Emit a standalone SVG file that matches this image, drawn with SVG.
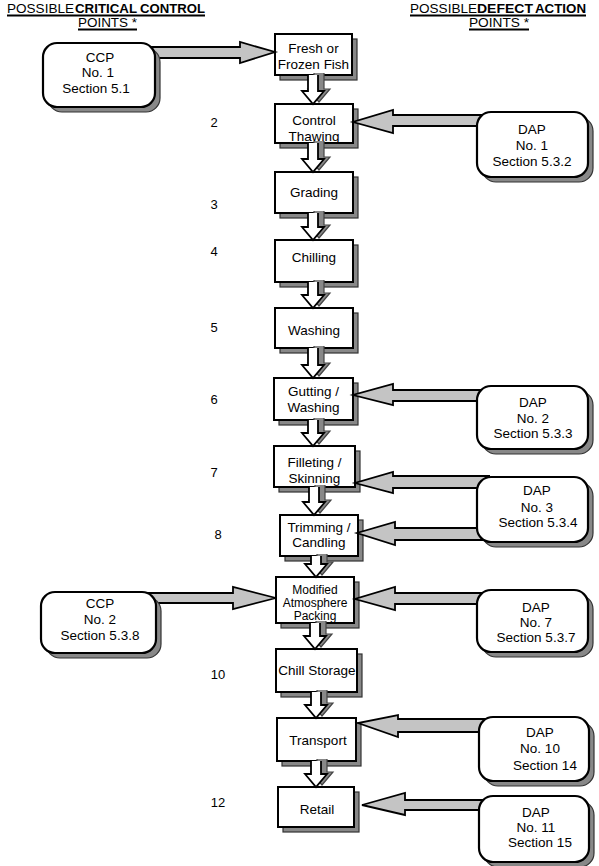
<svg xmlns="http://www.w3.org/2000/svg" width="599" height="866" viewBox="0 0 599 866">
<style>
.box{fill:#fff;stroke:#000;stroke-width:2}
.sh{fill:#888;stroke:#333;stroke-width:1.2}
.rbox{fill:#fff;stroke:#000;stroke-width:2.2}
.t{font-family:"Liberation Sans",Arial,sans-serif;font-size:13.5px;text-anchor:middle;fill:#000}
.s{font-size:12px}
.n{font-family:"Liberation Sans",Arial,sans-serif;font-size:13px;text-anchor:middle;fill:#000}
.h{font-family:"Liberation Sans",Arial,sans-serif;font-size:13.5px;fill:#000}
.b{font-weight:bold}
.ul{stroke:#000;stroke-width:1.8}
.ha{fill:#c4c4c4;stroke:#000;stroke-width:1.8}
.da{fill:#fff;stroke:#000;stroke-width:1.8}
.ds{fill:#888;stroke:#444;stroke-width:1.2}
</style>
<rect width="599" height="866" fill="#fff"/>

<g id="headers">
<text class="h" x="7" y="13" textLength="67" lengthAdjust="spacingAndGlyphs">POSSIBLE</text>
<text class="h b" x="75" y="13" textLength="62" lengthAdjust="spacingAndGlyphs">CRITICAL</text>
<text class="h b" x="140" y="13" textLength="65" lengthAdjust="spacingAndGlyphs">CONTROL</text>
<line class="ul" x1="7" y1="15.5" x2="205" y2="15.5"/>
<text class="h" x="78" y="27" textLength="59" lengthAdjust="spacingAndGlyphs">POINTS *</text>
<line class="ul" x1="78" y1="29.5" x2="137" y2="29.5"/>
<text class="h" x="410" y="13" textLength="67" lengthAdjust="spacingAndGlyphs">POSSIBLE</text>
<text class="h b" x="477" y="13" textLength="56" lengthAdjust="spacingAndGlyphs">DEFECT</text>
<text class="h b" x="535" y="13" textLength="51" lengthAdjust="spacingAndGlyphs">ACTION</text>
<line class="ul" x1="410" y1="15.5" x2="586" y2="15.5"/>
<text class="h" x="469" y="27" textLength="60" lengthAdjust="spacingAndGlyphs">POINTS *</text>
<line class="ul" x1="469" y1="29.5" x2="529" y2="29.5"/>
</g>

<g id="step-numbers">
<text class="n" x="214" y="127">2</text>
<text class="n" x="214" y="209">3</text>
<text class="n" x="214" y="256">4</text>
<text class="n" x="214" y="332">5</text>
<text class="n" x="214" y="404">6</text>
<text class="n" x="214" y="477">7</text>
<text class="n" x="218" y="539">8</text>
<text class="n" x="218" y="679">10</text>
<text class="n" x="218" y="807">12</text>
</g>

<g id="fresh-frozen-fish">
<rect class="sh" x="280" y="39" width="77" height="41"/>
<rect class="box" x="275" y="34" width="77" height="41"/>
<text class="t" x="313.5" y="53">Fresh or</text>
<text class="t" x="313.5" y="69">Frozen Fish</text>
</g>
<g id="control-thawing">
<rect class="sh" x="280" y="109" width="78" height="39"/>
<rect class="box" x="275" y="104" width="78" height="39"/>
<text class="t" x="314" y="125">Control</text>
<text class="t" x="314" y="141">Thawing</text>
</g>
<g id="grading">
<rect class="sh" x="280" y="177" width="78" height="41"/>
<rect class="box" x="275" y="172" width="78" height="41"/>
<text class="t" x="314" y="197">Grading</text>
</g>
<g id="chilling">
<rect class="sh" x="280" y="245" width="78" height="42"/>
<rect class="box" x="275" y="240" width="78" height="42"/>
<text class="t" x="314" y="262">Chilling</text>
</g>
<g id="washing">
<rect class="sh" x="280" y="313" width="78" height="40"/>
<rect class="box" x="275" y="308" width="78" height="40"/>
<text class="t" x="314" y="335">Washing</text>
</g>
<g id="gutting-washing">
<rect class="sh" x="279" y="383" width="79" height="42"/>
<rect class="box" x="274" y="378" width="79" height="42"/>
<text class="t" x="313.5" y="396">Gutting /</text>
<text class="t" x="313.5" y="412">Washing</text>
</g>
<g id="filleting-skinning">
<rect class="sh" x="279" y="451" width="81" height="41"/>
<rect class="box" x="274" y="446" width="81" height="41"/>
<text class="t" x="314.5" y="467">Filleting /</text>
<text class="t" x="314.5" y="483">Skinning</text>
</g>
<g id="trimming-candling">
<rect class="sh" x="285" y="520" width="78" height="41"/>
<rect class="box" x="280" y="515" width="78" height="41"/>
<text class="t" x="319" y="532">Trimming /</text>
<text class="t" x="319" y="547">Candling</text>
</g>
<g id="modified-atmosphere-packing">
<rect class="sh" x="281" y="582" width="78" height="46"/>
<rect class="box" x="276" y="577" width="78" height="46"/>
<text class="t s" x="315" y="594">Modified</text>
<text class="t s" x="315" y="607">Atmosphere</text>
<text class="t s" x="315" y="620">Packing</text>
</g>
<g id="chill-storage">
<rect class="sh" x="281" y="654" width="81" height="43"/>
<rect class="box" x="276" y="649" width="81" height="43"/>
<text class="t" x="317" y="675">Chill Storage</text>
</g>
<g id="transport">
<rect class="sh" x="282" y="723" width="79" height="43"/>
<rect class="box" x="277" y="718" width="79" height="43"/>
<text class="t" x="318" y="745">Transport</text>
</g>
<g id="retail">
<rect class="sh" x="283" y="792" width="76" height="40"/>
<rect class="box" x="278" y="787" width="76" height="40"/>
<text class="t" x="317" y="814">Retail</text>
</g>

<g id="connectors">
<g transform="translate(6,-2)">
<path class="ds" d="M308,75V91H302L313,104L324,91H318V75"/>
<path class="ds" d="M308,143V159H302L313,172L324,159H318V143"/>
<path class="ds" d="M308,213V227H302L313,240L324,227H318V213"/>
<path class="ds" d="M308,282V295H302L313,308L324,295H318V282"/>
<path class="ds" d="M308,348V365H302L313,378L324,365H318V348"/>
<path class="ds" d="M308,420V433H302L313,446L324,433H318V420"/>
<path class="ds" d="M309,487V502H303L314,515L325,502H319V487"/>
<path class="ds" d="M311,556V564H305L316,577L327,564H321V556"/>
<path class="ds" d="M310,623V636H304L315,649L326,636H320V623"/>
<path class="ds" d="M311,692V705H305L316,718L327,705H321V692"/>
<path class="ds" d="M311,761V774H305L316,787L327,774H321V761"/>
</g>
<path class="da" d="M308,75V91H302L313,104L324,91H318V75"/>
<path class="da" d="M308,143V159H302L313,172L324,159H318V143"/>
<path class="da" d="M308,213V227H302L313,240L324,227H318V213"/>
<path class="da" d="M308,282V295H302L313,308L324,295H318V282"/>
<path class="da" d="M308,348V365H302L313,378L324,365H318V348"/>
<path class="da" d="M308,420V433H302L313,446L324,433H318V420"/>
<path class="da" d="M309,487V502H303L314,515L325,502H319V487"/>
<path class="da" d="M311,556V564H305L316,577L327,564H321V556"/>
<path class="da" d="M310,623V636H304L315,649L326,636H320V623"/>
<path class="da" d="M311,692V705H305L316,718L327,705H321V692"/>
<path class="da" d="M311,761V774H305L316,787L327,774H321V761"/>
<path class="ha" d="M140,47H240V42L275,52L240,63V58H140"/>
<path class="ha" d="M490,115H393V110L353,122L393,133V126H490"/>
<path class="ha" d="M490,390H393V384L353,395L393,405V401H490"/>
<path class="ha" d="M490,476H393V472L355,483L393,493V488H490"/>
<path class="ha" d="M490,528H395V522L357,533L395,545V540H490"/>
<path class="ha" d="M140,593H233V587L276,598L233,609V603H140"/>
<path class="ha" d="M490,593H395V587L355,599L395,610V604H490"/>
<path class="ha" d="M490,719H398V715L358,723L398,737V732H490"/>
<path class="ha" d="M490,800H405V793L362,805L405,815V810H490"/>
</g>

<g id="ccp-1">
<rect class="sh" x="48" y="48" width="112" height="64" rx="14"/>
<rect class="rbox" x="43" y="43" width="112" height="64" rx="14"/>
<text class="t" x="100" y="62">CCP</text>
<text class="t" x="98" y="77">No. 1</text>
<text class="t" x="96" y="93">Section 5.1</text>
</g>
<g id="dap-1">
<rect class="sh" x="482" y="117" width="111" height="65" rx="14"/>
<rect class="rbox" x="477" y="112" width="111" height="65" rx="14"/>
<text class="t" x="532" y="134">DAP</text>
<text class="t" x="532" y="150">No. 1</text>
<text class="t" x="532" y="166">Section 5.3.2</text>
</g>
<g id="dap-2">
<rect class="sh" x="482" y="391" width="111" height="63" rx="14"/>
<rect class="rbox" x="477" y="386" width="111" height="63" rx="14"/>
<text class="t" x="533" y="407">DAP</text>
<text class="t" x="533" y="423">No. 2</text>
<text class="t" x="533" y="438">Section 5.3.3</text>
</g>
<g id="dap-3">
<rect class="sh" x="482" y="482" width="111" height="65" rx="14"/>
<rect class="rbox" x="477" y="477" width="111" height="65" rx="14"/>
<text class="t" x="537" y="495">DAP</text>
<text class="t" x="537" y="512">No. 3</text>
<text class="t" x="538" y="527">Section 5.3.4</text>
</g>
<g id="ccp-2">
<rect class="sh" x="46" y="597" width="115" height="61" rx="14"/>
<rect class="rbox" x="41" y="592" width="115" height="61" rx="14"/>
<text class="t" x="100" y="608">CCP</text>
<text class="t" x="100" y="624">No. 2</text>
<text class="t" x="100" y="640">Section 5.3.8</text>
</g>
<g id="dap-7">
<rect class="sh" x="482" y="595" width="111" height="62" rx="14"/>
<rect class="rbox" x="477" y="590" width="111" height="62" rx="14"/>
<text class="t" x="536" y="612">DAP</text>
<text class="t" x="536" y="627">No. 7</text>
<text class="t" x="536" y="642">Section 5.3.7</text>
</g>
<g id="dap-10">
<rect class="sh" x="484" y="722" width="110" height="64" rx="14"/>
<rect class="rbox" x="479" y="717" width="110" height="64" rx="14"/>
<text class="t" x="540" y="737">DAP</text>
<text class="t" x="540" y="753">No. 10</text>
<text class="t" x="545" y="770">Section 14</text>
</g>
<g id="dap-11">
<rect class="sh" x="484" y="801" width="110" height="66" rx="14"/>
<rect class="rbox" x="479" y="796" width="110" height="66" rx="14"/>
<text class="t" x="536" y="817">DAP</text>
<text class="t" x="536" y="832">No. 11</text>
<text class="t" x="540" y="847">Section 15</text>
</g>
</svg>
